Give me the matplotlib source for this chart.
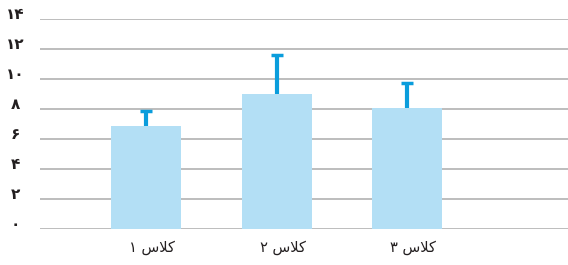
import matplotlib
matplotlib.use("Agg")
import matplotlib.pyplot as plt
import matplotlib.transforms as mtransforms

# Data
categories = ["\u06F1 \uFEB1\uFEFC\uFB90", "\u06F2 \uFEB1\uFEFC\uFB90", "\u06F3 \uFEB1\uFEFC\uFB90"]  # کلاس ۱، ۲، ۳ (visual order)
values = [6.9, 9.0, 8.05]
errors_up = [1.0, 2.6, 1.65]
yticks = [0, 2, 4, 6, 8, 10, 12, 14]
ytick_labels = ["\u06F0", "\u06F2", "\u06F4", "\u06F6", "\u06F8", "\u06F1\u06F0", "\u06F1\u06F2", "\u06F1\u06F4"]

plt.rcParams['font.family'] = ['DejaVu Sans']

fig = plt.figure(figsize=(5.68, 2.65), dpi=100)
ax = fig.add_axes([40/568, 36/265, 528/568, 210/265])

x = list(range(len(categories)))
ax.bar(x, values, width=0.535, color="#b3dff5", zorder=2)
_, caps, _ = ax.errorbar(x, values, yerr=[[0]*len(values), errors_up], fmt="none",
                         ecolor="#0a9ddc", elinewidth=3, capsize=4.5, capthick=2.5, zorder=3)
caps[0].set_visible(False)

ax.set_xlim(-0.81, 3.23)
ax.set_ylim(0, 14)
ax.set_yticks(yticks)
ax.set_yticklabels(ytick_labels, fontsize=11, color="#231f20", ha="center", fontweight="bold")
ax.set_xticks(x)
ax.set_xticklabels(categories, fontsize=10.5, color="#231f20")
ax.tick_params(axis="y", length=0, pad=18)
ax.tick_params(axis="x", length=0, pad=8)

yoff = mtransforms.ScaledTranslation(0, 4/72, fig.dpi_scale_trans)
for lbl in ax.get_yticklabels():
    lbl.set_transform(lbl.get_transform() + yoff)
xoff = mtransforms.ScaledTranslation(6/100, 0, fig.dpi_scale_trans)
for lbl in ax.get_xticklabels():
    lbl.set_transform(lbl.get_transform() + xoff)

ax.yaxis.grid(True, color="#b8b8b8", linewidth=1.3, zorder=0)
ax.set_axisbelow(True)
for s in ax.spines.values():
    s.set_visible(False)

fig.savefig("out.png", dpi=100)
